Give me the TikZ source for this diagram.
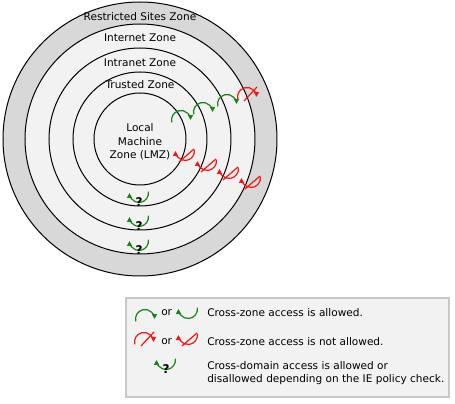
\documentclass[tikz,border=0pt]{standalone}
\usepackage{fontspec}
\setmainfont{DejaVu Sans}
\usetikzlibrary{arrows.meta}

\definecolor{okgreen}{RGB}{20,135,20}
\definecolor{nored}{RGB}{245,20,20}
\definecolor{zonefill}{RGB}{242,242,242}
\definecolor{ringfill}{RGB}{216,216,216}
\definecolor{boxline}{RGB}{200,200,200}

\begin{document}
\begin{tikzpicture}[
        x=0.75pt, y=0.75pt,
        font=\fontsize{7.9}{9.7}\selectfont,
        zone/.style={draw=black, line width=0.75pt, fill=zonefill},
        zonelabel/.style={inner sep=0pt, align=center},
        legendtext/.style={inner sep=0pt, anchor=west, align=left},
        icon/.style={line width=0.9pt, -{Triangle[length=3.6pt,width=3.6pt]}},
        fwd/.pic={\draw[#1, icon] (195:9.5) arc[start angle=195, end angle=0, radius=9.5];},
        back/.pic={\draw[#1, icon] (8:9.5) arc[start angle=8, end angle=-180, radius=9.5];},
        deny/.pic={\pic {fwd=nored}; \draw[nored, line width=0.9pt] (-3,-4) -- (10,10);},
        denyback/.pic={\pic {back=nored}; \draw[nored, line width=0.9pt] (-6,-11) -- (9,2);},
        ask/.pic={\pic {back=okgreen};
            \node[inner sep=0pt, font=\bfseries\fontsize{9}{9}\selectfont] (q) at (0,-9.5) {?};}
    ]
    \useasboundingbox (0,0) rectangle (455,404);

    % zones
    \coordinate (c) at (140,265);
    \fill[ringfill] (c) circle[radius=137];
    \draw[line width=0.75pt] (c) circle[radius=137];
    \draw[zone] (c) circle[radius=115];
    \draw[zone] (c) circle[radius=91];
    \draw[zone] (c) circle[radius=67];
    \draw[zone] (c) circle[radius=46];

    % zone names
    \node[zonelabel] (restricted) at (140,387) {Restricted Sites Zone};
    \node[zonelabel] (internet) at (140,366) {Internet Zone};
    \node[zonelabel] (intranet) at (140,341) {Intranet Zone};
    \node[zonelabel] (trusted) at (140,319) {Trusted Zone};
    \node[zonelabel, font=\fontsize{7.9}{10.2}\selectfont] (lmz) at (140,262) {Local\\Machine\\Zone (LMZ)};

    % crossings
    \pic at (181,284) {fwd=okgreen};
    \pic at (203,292) {fwd=okgreen};
    \pic at (227,300) {fwd=okgreen};
    \pic at (247,307) {deny};
    \pic at (185,253) {denyback};
    \pic at (207,243) {denyback};
    \pic at (229,235) {denyback};
    \pic at (251,226) {denyback};
    \pic (ask1) at (139,211) {ask};
    \pic (ask2) at (139,187) {ask};
    \pic (ask3) at (139,163) {ask};

    % legend
    \draw[boxline, line width=1.1pt, fill=zonefill] (126,7) rectangle (449,106);
    \pic at (145,85) {fwd=okgreen};
    \node[legendtext] (or1) at (161,91) {or};
    \pic at (188,95) {back=okgreen};
    \node[legendtext] (allowed) at (207,91) {Cross-zone access is allowed.};
    \pic at (144,62) {deny};
    \node[legendtext] (or2) at (161,62) {or};
    \pic at (188,69) {denyback};
    \node[legendtext] (denied) at (207,62) {Cross-zone access is not allowed.};
    \pic (ask4) at (166,44) {ask};
    \node[legendtext, font=\fontsize{7.9}{9.8}\selectfont] (policy) at (207,30.5)
        {Cross-domain access is allowed or\\disallowed depending on the IE policy check.};
\end{tikzpicture}
\end{document}
